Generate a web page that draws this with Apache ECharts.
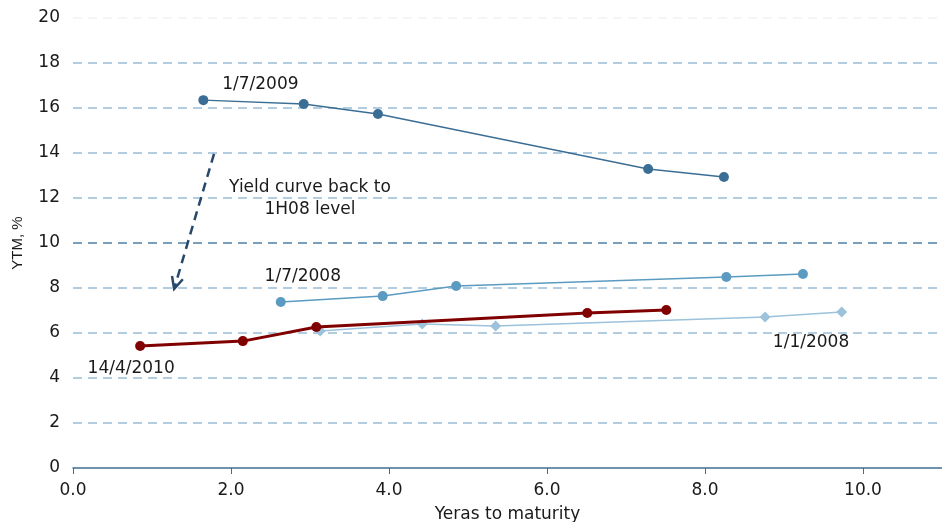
<!DOCTYPE html>
<html>
<head>
<meta charset="utf-8">
<script src="https://cdn.jsdelivr.net/npm/echarts@6/dist/echarts.min.js"></script>
<style>
  html, body { margin: 0; padding: 0; background: #ffffff; }
  #chart { width: 942px; height: 522px; }
</style>
</head>
<body>
<div id="chart"></div>
<script>
// Yield curves: years to maturity vs. yield to maturity (%)
const curve2009 = [[1.65, 16.35], [2.92, 16.18], [3.86, 15.73], [7.28, 13.29], [8.24, 12.93]];
const curveJul2008 = [[2.63, 7.38], [3.92, 7.64], [4.85, 8.09], [8.27, 8.49], [9.24, 8.62]];
const curveJan2008 = [[3.13, 6.09], [4.42, 6.40], [5.35, 6.31], [8.76, 6.71], [9.73, 6.93]];
const curve2010 = [[0.85, 5.42], [2.15, 5.64], [3.08, 6.27], [6.51, 6.89], [7.51, 7.02]];

const seriesNames = ['1/1/2008', '1/7/2008', '1/7/2009', '14/4/2010'];
const yTicks = [0, 2, 4, 6, 8, 10, 12, 14, 16, 18, 20];
const xTicks = [0, 2, 4, 6, 8, 10];

// Arrow from the 2009 curve down to the 2010 curve, in axis units
const arrowFrom = [1.785, 13.96];
const arrowTo = [1.28, 7.96];
const noteText = 'Yield curve back to\n1H08 level';
const noteAt = [3.0, 12.0];

const FONT = 'DejaVu Sans, Verdana, sans-serif';
const TEXT = '#1a1a1a';

const chart = echarts.init(document.getElementById('chart'), null, { renderer: 'canvas' });

function curveLabel(text, offset) {
  return {
    show: true,
    position: 'inside',
    offset: offset,
    formatter: text,
    color: TEXT,
    fontFamily: FONT,
    fontSize: 17
  };
}

function withLabel(data, idx, label) {
  return data.map((p, i) => i === idx ? { value: p, label: label } : { value: p, label: { show: false } });
}

// split line colours per tick: the 10% line is darker, the top line is faint,
// the zero line is left to the axis line
const gridColors = yTicks.map(v => v === 0 ? 'rgba(0,0,0,0)' : v === 10 ? '#4d80a6' : (v === 20 ? '#f2f2f2' : '#9bbdd6'));

const option = {
  animation: false,
  backgroundColor: '#ffffff',
  grid: { left: 73, right: 0, top: 18, bottom: 54, containLabel: false, outerBoundsMode: 'none' },
  xAxis: {
    type: 'value',
    min: 0,
    max: 11,
    interval: 2,
    name: 'Yeras to maturity',
    nameLocation: 'middle',
    nameGap: 38,
    nameTextStyle: { color: TEXT, fontFamily: FONT, fontSize: 17 },
    axisLine: { show: true, onZero: false, lineStyle: { color: '#3d6f96', width: 1.5 } },
    axisTick: { show: true, inside: false, length: 6, lineStyle: { color: '#3d6f96', width: 1 } },
    axisLabel: {
      color: TEXT, fontFamily: FONT, fontSize: 17, margin: 14,
      showMaxLabel: false,
      formatter: v => (xTicks.indexOf(v) >= 0 ? Number(v).toFixed(1) : '')
    },
    splitLine: { show: false }
  },
  yAxis: {
    type: 'value',
    min: 0,
    max: 20,
    interval: 2,
    name: 'YTM, %',
    nameLocation: 'middle',
    nameGap: 48,
    nameRotate: 90,
    nameTextStyle: { color: TEXT, fontFamily: 'Liberation Sans, Arial, sans-serif', fontSize: 15 },
    axisLine: { show: false },
    axisTick: { show: false },
    axisLabel: { color: TEXT, fontFamily: FONT, fontSize: 17, margin: 13 },
    splitLine: { show: true, lineStyle: { type: [9, 6], color: gridColors, width: 1.5 } }
  },
  series: [
    {
      name: seriesNames[0],
      type: 'line',
      data: withLabel(curveJan2008, 3, curveLabel(seriesNames[0], [46, 26])),
      symbol: 'diamond',
      symbolSize: 11,
      showAllSymbol: true,
      lineStyle: { color: '#9cc2dc', width: 1.5 },
      itemStyle: { color: '#9cc2dc' },
      z: 2
    },
    {
      name: seriesNames[1],
      type: 'line',
      data: withLabel(curveJul2008, 0, curveLabel(seriesNames[1], [22, -25])),
      symbol: 'circle',
      symbolSize: 10,
      lineStyle: { color: '#5b9bc1', width: 1.5 },
      itemStyle: { color: '#5b9bc1' },
      z: 3
    },
    {
      name: seriesNames[2],
      type: 'line',
      data: withLabel(curve2009, 0, curveLabel(seriesNames[2], [57, -16])),
      symbol: 'circle',
      symbolSize: 10,
      lineStyle: { color: '#3b6e95', width: 1.5 },
      itemStyle: { color: '#3b6e95' },
      z: 3
    },
    {
      name: seriesNames[3],
      type: 'line',
      data: withLabel(curve2010, 0, curveLabel(seriesNames[3], [-9, 23])),
      symbol: 'circle',
      symbolSize: 10,
      lineStyle: { color: '#800000', width: 3 },
      itemStyle: { color: '#800000' },
      z: 4
    },
    {
      // dashed arrow with an open arrowhead plus its note
      type: 'custom',
      silent: true,
      z: 5,
      data: [[arrowFrom[0], arrowFrom[1], arrowTo[0], arrowTo[1]]],
      encode: { x: [0, 2], y: [1, 3] },
      renderItem: function (params, api) {
        const p0 = api.coord([api.value(0), api.value(1)]);
        const p1 = api.coord([api.value(2), api.value(3)]);
        const ang = Math.atan2(p1[1] - p0[1], p1[0] - p0[0]);
        const head = 13, spread = Math.PI / 7;
        const a1 = [p1[0] - head * Math.cos(ang - spread), p1[1] - head * Math.sin(ang - spread)];
        const a2 = [p1[0] - head * Math.cos(ang + spread), p1[1] - head * Math.sin(ang + spread)];
        const stroke = { stroke: '#26486a', lineWidth: 2.5, fill: null };
        const pn = api.coord(noteAt);
        return {
          type: 'group',
          children: [
            { type: 'line', shape: { x1: p0[0], y1: p0[1], x2: p1[0], y2: p1[1] },
              style: Object.assign({ lineDash: [9, 6] }, stroke) },
            { type: 'polyline', shape: { points: [a1, p1, a2] }, style: stroke },
            { type: 'text', x: pn[0], y: pn[1] + 1,
              style: { text: noteText, fill: TEXT, font: '17px ' + FONT,
                       align: 'center', verticalAlign: 'middle', lineHeight: 22 } }
          ]
        };
      }
    }
  ]
};

chart.setOption(option);
</script>
</body>
</html>
